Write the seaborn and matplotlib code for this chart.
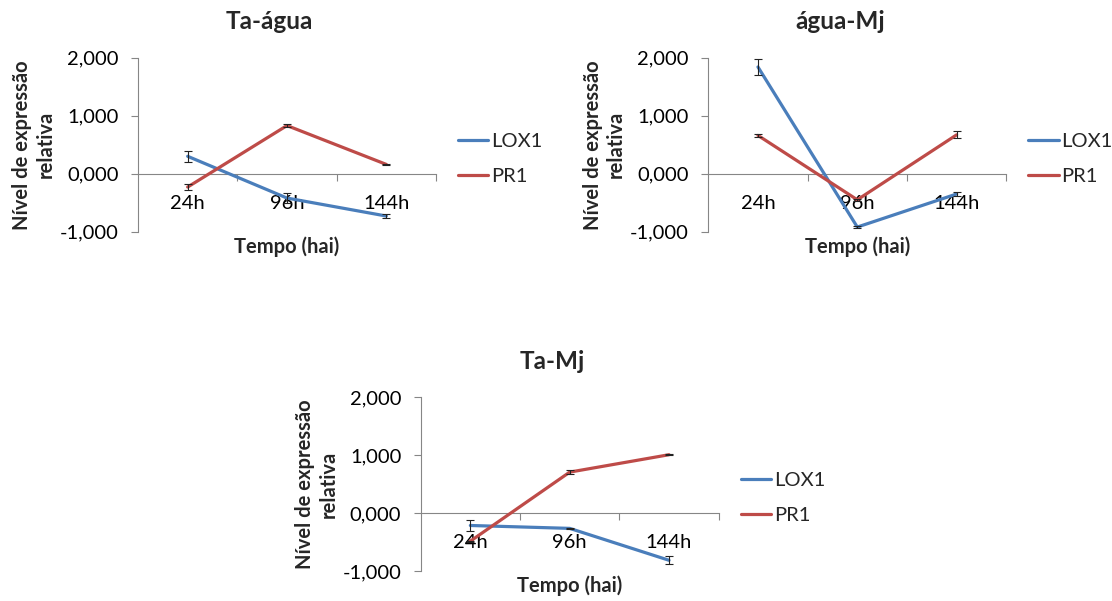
import numpy as np
import pandas as pd
import matplotlib
matplotlib.use("Agg")
import matplotlib.pyplot as plt
from matplotlib.ticker import FuncFormatter
import seaborn as sns

# categorias e séries
tempos = ["24h", "96h", "144h"]
genes = ["LOX1", "PR1"]
titulos = ["Ta-água", "água-Mj", "Ta-Mj"]

lox1_ta_agua = [0.30, -0.42, -0.73]
lox1_ta_agua_err = [0.10, 0.09, 0.03]
pr1_ta_agua = [-0.23, 0.83, 0.16]
pr1_ta_agua_err = [0.05, 0.03, 0.01]

lox1_agua_mj = [1.84, -0.92, -0.35]
lox1_agua_mj_err = [0.14, 0.02, 0.03]
pr1_agua_mj = [0.66, -0.45, 0.67]
pr1_agua_mj_err = [0.02, 0.02, 0.06]

lox1_ta_mj = [-0.21, -0.26, -0.81]
lox1_ta_mj_err = [0.09, 0.01, 0.07]
pr1_ta_mj = [-0.48, 0.71, 1.01]
pr1_ta_mj_err = [0.01, 0.04, 0.01]

series = [
    (lox1_ta_agua, lox1_ta_agua_err, pr1_ta_agua, pr1_ta_agua_err),
    (lox1_agua_mj, lox1_agua_mj_err, pr1_agua_mj, pr1_agua_mj_err),
    (lox1_ta_mj, lox1_ta_mj_err, pr1_ta_mj, pr1_ta_mj_err),
]

cores = {"LOX1": "#4A7EBB", "PR1": "#BE4B48"}
CINZA = "#868686"
FS = 14.5

sns.set_theme(style="white")
plt.rcParams["font.family"] = ["Lato", "DejaVu Sans"]

W, H = 1112, 601
fig = plt.figure(figsize=(W / 100, H / 100), dpi=100)

# canto superior esquerdo de cada área de plotagem, em pixels
cantos = [(138, 57.7), (708.3, 57.7), (420.7, 397.3)]
larg, alt = 298, 174


def fmt_pt(v, _):
    return f"{v:.3f}".replace(".", ",")


for titulo, (lox, lox_err, pr, pr_err), (px, py) in zip(titulos, series, cantos):
    ax = fig.add_axes([px / W, 1 - (py + alt) / H, larg / W, alt / H])

    pos = list(range(len(tempos)))
    df = pd.DataFrame({
        "pos": pos * 2,
        "valor": lox + pr,
        "Gene": [genes[0]] * len(tempos) + [genes[1]] * len(tempos),
    })
    sns.lineplot(data=df, x="pos", y="valor", hue="Gene", palette=cores,
                 linewidth=2.3, errorbar=None, ax=ax)
    handles, labels = ax.get_legend_handles_labels()
    ax.legend_.remove()

    for vals, errs in [(lox, lox_err), (pr, pr_err)]:
        ax.errorbar(pos, vals, yerr=errs, fmt="none", ecolor="#222222",
                    elinewidth=0.8, capsize=3, capthick=0.8, zorder=3)

    ax.set_xlim(-0.5, 2.5)
    ax.set_ylim(-1, 2)
    ax.set_yticks([-1, 0, 1, 2])
    ax.yaxis.set_major_formatter(FuncFormatter(fmt_pt))
    ax.set_xticks(pos)
    ax.set_xticklabels(tempos)
    ax.set_xticks([0.5, 1.5, 2.5], minor=True)
    ax.set_xlabel("")
    ax.set_ylabel("")

    for s in ["top", "right"]:
        ax.spines[s].set_visible(False)
    ax.spines["left"].set_color(CINZA)
    ax.spines["bottom"].set_color(CINZA)
    ax.spines["left"].set_linewidth(0.8)
    ax.spines["bottom"].set_linewidth(0.8)
    ax.spines["bottom"].set_position(("data", 0))
    ax.spines["bottom"].set_zorder(0.5)

    ax.tick_params(axis="y", which="major", left=True, length=5, width=0.8,
                   color=CINZA, direction="out", pad=9, labelsize=FS,
                   labelcolor="black")
    ax.tick_params(axis="x", which="major", bottom=True, length=0, pad=15,
                   labelsize=FS, labelcolor="black")
    ax.tick_params(axis="x", which="minor", bottom=True, length=5, width=0.8,
                   color=CINZA, direction="out")

    ax.legend(handles, labels, loc="center left", bbox_to_anchor=(1.074, 0.42),
              frameon=False, fontsize=FS, handlelength=1.5, handletextpad=0.15,
              labelspacing=0.9, borderpad=0, borderaxespad=0)

    fig.text((px + 131.5) / W, 1 - (py - 28.5) / H, titulo, ha="center",
             va="baseline", fontsize=17.5, fontweight="bold")
    fig.text((px + larg / 2) / W, 1 - (py + 195) / H, "Tempo (hai)",
             ha="center", va="baseline", fontsize=14.5, fontweight="bold")
    fig.text((px - 104) / W, 1 - (py + alt / 2) / H,
             "Nível de expressão\nrelativa", rotation=90, ha="center",
             va="center", fontsize=14.5, fontweight="bold", linespacing=1.2)

fig.savefig("out.png", dpi=100)
